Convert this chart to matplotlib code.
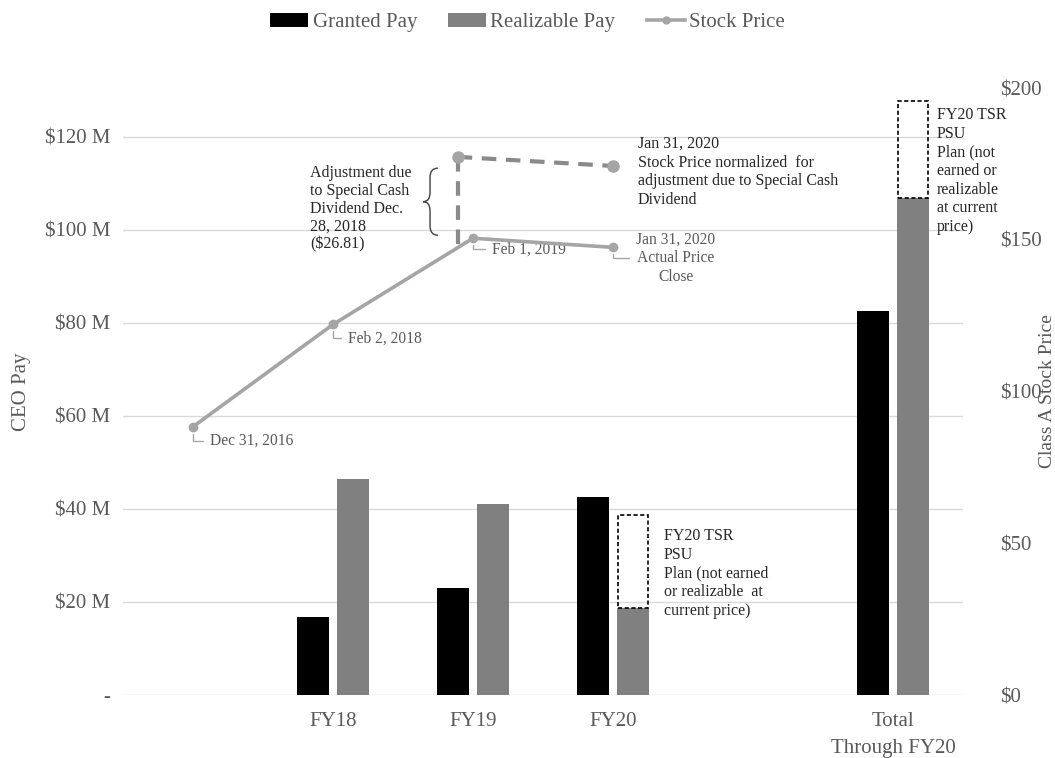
import matplotlib.pyplot as plt
import numpy as np
from matplotlib.patches import Patch, PathPatch
from matplotlib.lines import Line2D
from matplotlib.path import Path

plt.rcParams['font.family'] = ['Liberation Serif', 'DejaVu Serif']

# Categories along the x axis (blank slots give the spacing)
categories = ['', 'FY18', 'FY19', 'FY20', '', 'Total\nThrough FY20']
bar_pos = [1, 2, 3, 5]

# CEO pay, $M
granted_pay = [16.8, 22.9, 42.6, 82.5]
realizable_pay = [46.5, 41.1, 18.8, 106.8]
# FY20 TSR PSU not earned at current price, $M (FY20 and total)
psu_pos = [3, 5]
psu_base = [18.8, 106.8]
psu_unearned = [20.0, 20.8]

# Class A stock price, $
price_pos = [0, 1, 2, 3]
price_dates = ['Dec 31, 2016', 'Feb 2, 2018', 'Feb 1, 2019', 'Jan 31, 2020']
stock_price = [88.4, 122.1, 150.5, 147.5]
special_dividend = 26.81

TICK = '#595959'
LINE = '#a5a5a5'
TXT = '#262626'
FS = 11.5

fig = plt.figure(figsize=(10.55, 7.58), dpi=100)
ax = fig.add_axes([0.1166, 0.0831, 0.7962, 0.8008])
ax2 = ax.twinx()

w = 0.229
off = 0.143
ax.bar(np.array(bar_pos) - off, granted_pay, width=w, color='black', zorder=3)
ax.bar(np.array(bar_pos) + off, realizable_pay, width=w, color='#808080', zorder=3)
ax.bar(np.array(psu_pos) + off, psu_unearned, bottom=psu_base, width=w * 0.95,
       fill=False, edgecolor='black', linestyle=(0, (2.5, 1.5)), linewidth=1.2, zorder=3)

ax.set_xlim(-0.5, 5.5)
ax.set_ylim(0, 130.5)
ax.set_yticks(np.arange(0, 121, 20))
ax.set_yticklabels(['-'] + [f'${v} M' for v in range(20, 121, 20)])
ax.set_xticks(range(len(categories)))
ax.set_xticklabels(categories, linespacing=1.6)
ax.grid(axis='y', color='#d9d9d9', linewidth=1, zorder=0)
ax.set_axisbelow(True)
ax.tick_params(axis='both', length=0, labelsize=15, colors=TICK)
ax.tick_params(axis='y', pad=9)
ax.tick_params(axis='x', pad=12)
ax.set_ylabel('CEO Pay', fontsize=15, color=TICK)
ax.yaxis.set_label_coords(-0.11, 0.5)

ax2.set_ylim(0, 200)
ax2.set_yticks(np.arange(0, 201, 50))
ax2.set_yticklabels([f'${v}' for v in range(0, 201, 50)])
ax2.tick_params(axis='y', length=0, labelsize=15, colors=TICK, pad=27)
ax2.set_ylabel('Class A Stock Price', fontsize=14, color=TICK)
ax2.yaxis.set_label_coords(1.091, 0.5)

for a in (ax, ax2):
    for s in a.spines.values():
        s.set_visible(False)

# actual stock price line
ax2.plot(price_pos, stock_price, color=LINE, linewidth=2.6, marker='o',
         markersize=6, zorder=4)

# price normalized for the special dividend
adj_x = [price_pos[2] - 0.11, price_pos[3]]
adj_y = [stock_price[2] + special_dividend, stock_price[3] + special_dividend]
base_y = np.interp(adj_x[0], price_pos, stock_price)
ax2.plot(adj_x, adj_y, color='#8a8a8a', linewidth=3, linestyle=(0, (3.5, 2.3)), zorder=4)
ax2.plot([adj_x[0], adj_x[0]], [adj_y[0], base_y], color='#8a8a8a', linewidth=3,
         linestyle=(0, (3.5, 2.3)), zorder=4)
ax2.plot(adj_x, adj_y, linestyle='none', marker='o', markersize=8, color=LINE, zorder=5)

# point labels with small elbow leaders
label_offsets = [(17, -14), (15, -14), (19, -11), (63, -11)]
label_text = price_dates[:3] + ['Jan 31, 2020\nActual Price\nClose']
for i, (dx, dy) in enumerate(label_offsets):
    ha = 'center' if i == 3 else 'left'
    ax2.annotate(label_text[i], xy=(price_pos[i], stock_price[i]), xytext=(dx, dy),
                 textcoords='offset pixels', ha=ha, va='center', fontsize=11.2,
                 color=TICK, multialignment='center', linespacing=1.22,
                 arrowprops=dict(arrowstyle='-', color=LINE, linewidth=1,
                                 connectionstyle='angle,angleA=0,angleB=90,rad=0',
                                 relpos=(0, 0.5), shrinkA=3, shrinkB=5))

# curly brace marking the dividend adjustment
bx_tip, bx_mid, bx_end = 1.643, 1.693, 1.75
b_top, b_bot = 173.6, 151.5
b_mid = (b_top + b_bot) / 2
r = 3.0
verts = [(bx_end, b_top), (bx_mid, b_top), (bx_mid, b_top - r),
         (bx_mid, b_mid + r), (bx_mid, b_mid), (bx_tip, b_mid),
         (bx_mid, b_mid), (bx_mid, b_mid - r),
         (bx_mid, b_bot + r), (bx_mid, b_bot), (bx_end, b_bot)]
codes = [Path.MOVETO, Path.CURVE3, Path.CURVE3,
         Path.LINETO, Path.CURVE3, Path.CURVE3,
         Path.CURVE3, Path.CURVE3,
         Path.LINETO, Path.CURVE3, Path.CURVE3]
ax2.add_patch(PathPatch(Path(verts, codes), fill=False, edgecolor='#404040', linewidth=1))

ax.text(0.836, 114.0, 'Adjustment due\nto Special Cash\nDividend Dec.\n28, 2018\n($26.81)',
        fontsize=FS, color=TXT, va='top', ha='left', linespacing=1.16)
ax.text(3.179, 120.2, 'Jan 31, 2020\nStock Price normalized  for\n'
        'adjustment due to Special Cash\nDividend',
        fontsize=FS, color=TXT, va='top', ha='left', linespacing=1.22)
ax.text(3.364, 35.9, 'FY20 TSR\nPSU\nPlan (not earned\nor realizable  at\ncurrent price)',
        fontsize=FS, color=TXT, va='top', ha='left', linespacing=1.22)
ax.text(5.314, 126.4, 'FY20 TSR\nPSU\nPlan (not\nearned or\nrealizable\nat current\nprice)',
        fontsize=FS, color=TXT, va='top', ha='left', linespacing=1.22)

handles = [Patch(facecolor='black'), Patch(facecolor='#808080'),
           Line2D([], [], color=LINE, linewidth=2.6, marker='o', markersize=5)]
fig.legend(handles, ['Granted Pay', 'Realizable Pay', 'Stock Price'], loc='upper center',
           bbox_to_anchor=(0.5, 1.008), ncol=3, frameon=False, fontsize=15,
           labelcolor=TICK, handlelength=1.82, handleheight=0.7, handletextpad=0.2,
           columnspacing=1.5)

fig.savefig('out.png', dpi=100)
